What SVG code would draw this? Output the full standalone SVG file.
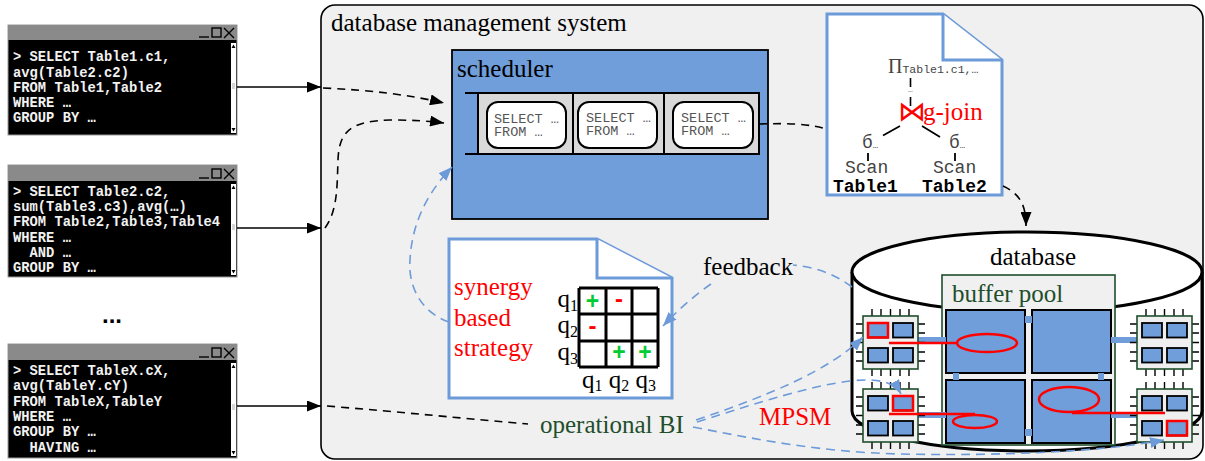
<svg xmlns="http://www.w3.org/2000/svg" width="1205" height="461" viewBox="0 0 1205 461">
  <style>
    .term-bg { fill: #000; stroke: #9a9a9a; stroke-width: 1; }
    .term-bar { fill: #8a8a8a; }
    .ico { fill: none; stroke: #000; stroke-width: 1.4; }
    .code { font-family: "Liberation Mono", monospace; font-weight: bold; font-size: 13.8px; fill: #f2f2f2; white-space: pre; }
    .lbl { font-family: "Liberation Serif", serif; font-size: 25px; fill: #000; }
    .red { fill: #ff0000; }
    .dgreen { fill: #1f4e2c; }
    .q { font-family: "Liberation Mono", monospace; font-size: 13.5px; fill: #555; }
    .plan { font-family: "Liberation Mono", monospace; font-size: 18px; fill: #444; }
    .planb { font-family: "Liberation Mono", monospace; font-size: 18px; font-weight: bold; fill: #000; }
    .doc { fill: #fff; stroke: #6d9bd9; stroke-width: 3; stroke-linejoin: miter; }
    .page { fill: #6f9edb; stroke: #000; stroke-width: 2; }
    .solid-k { fill: none; stroke: #000; stroke-width: 1.6; }
    .dash-k { fill: none; stroke: #000; stroke-width: 1.6; stroke-dasharray: 8 6; }
    .dash-b { fill: none; stroke: #6d9bd9; stroke-width: 1.6; stroke-dasharray: 9 6; }
    .bar-b { fill: #6f9edb; }
    .hl { fill: none; stroke: #ff0000; stroke-width: 2.5; }
    .pin { stroke: #000; stroke-width: 1.4; fill: none; }
  </style>
  <defs>
    <marker id="ah-k" viewBox="0 0 14 11" refX="14" refY="5.5" markerWidth="14" markerHeight="11" markerUnits="userSpaceOnUse" orient="auto">
      <path d="M0,0 L14,5.5 L0,11 z" fill="#000"/>
    </marker>
    <marker id="ah-b" viewBox="0 0 14 11" refX="14" refY="5.5" markerWidth="14" markerHeight="11" markerUnits="userSpaceOnUse" orient="auto">
      <path d="M0,0 L14,5.5 L0,11 z" fill="#6d9bd9"/>
    </marker>
    <!-- processor chip: body, pins and four cores -->
    <g id="chip">
      <path class="pin" d="M9 -7V0 M18 -7V0 M27.5 -7V0 M37 -7V0 M46 -7V0 M9 53V60 M18 53V60 M27.5 53V60 M37 53V60 M46 53V60 M-7 8H0 M-7 17H0 M-7 26.5H0 M-7 36H0 M-7 45H0 M55 8H62 M55 17H62 M55 26.5H62 M55 36H62 M55 45H62"/>
      <rect x="0" y="0" width="55" height="53" fill="#efefef" stroke="#1f4e2c" stroke-width="1.6"/>
      <rect x="5" y="7" width="20" height="14.5" fill="#6f9edb" stroke="#000" stroke-width="1.8"/>
      <rect x="30" y="7" width="20" height="14.5" fill="#6f9edb" stroke="#000" stroke-width="1.8"/>
      <rect x="5" y="32" width="20" height="14.5" fill="#6f9edb" stroke="#000" stroke-width="1.8"/>
      <rect x="30" y="32" width="20" height="14.5" fill="#6f9edb" stroke="#000" stroke-width="1.8"/>
    </g>
  </defs>

  <!-- database management system frame -->
  <g id="dbms">
    <rect x="321" y="5" width="882" height="454" rx="14" fill="#f0f0f0" stroke="#000" stroke-width="1.6"/>
    <text class="lbl" x="331" y="31">database management system</text>
  </g>

  <!-- client terminals -->
  <g id="terminal1">
    <rect class="term-bg" x="8" y="25" width="229" height="110"/>
    <rect class="term-bar" x="8" y="25" width="229" height="15"/>
    <path class="ico" d="M199 37H209"/>
    <rect class="ico" x="212" y="28" width="9" height="9"/>
    <path class="ico" stroke-width="2" d="M224 28L234 38M234 28L224 38"/>
    <rect x="231" y="43" width="5" height="90" fill="#fff"/>
    <path d="M231.5 48L233.5 44.5L235.5 48z M231.5 128L233.5 131.5L235.5 128z" fill="#000"/>
    <path d="M232 84H235M232 86H235M232 88H235" stroke="#999" stroke-width="0.8"/>
    <text class="code" x="13" y="61">&gt; SELECT Table1.c1,</text>
    <text class="code" x="13" y="76.5">avg(Table2.c2)</text>
    <text class="code" x="13" y="92">FROM Table1,Table2</text>
    <text class="code" x="13" y="107">WHERE …</text>
    <text class="code" x="13" y="122">GROUP BY …</text>
  </g>
  <g id="terminal2">
    <rect class="term-bg" x="8" y="165" width="229" height="112"/>
    <rect class="term-bar" x="8" y="165" width="229" height="16"/>
    <path class="ico" d="M199 178H209"/>
    <rect class="ico" x="212" y="169" width="9" height="9"/>
    <path class="ico" stroke-width="2" d="M224 169L234 179M234 169L224 179"/>
    <rect x="231" y="184" width="5" height="91" fill="#fff"/>
    <path d="M231.5 189L233.5 185.5L235.5 189z M231.5 270L233.5 273.5L235.5 270z" fill="#000"/>
    <path d="M232 225H235M232 227H235M232 229H235" stroke="#999" stroke-width="0.8"/>
    <text class="code" x="13" y="196">&gt; SELECT Table2.c2,</text>
    <text class="code" x="13" y="211">sum(Table3.c3),avg(…)</text>
    <text class="code" x="13" y="226">FROM Table2,Table3,Table4</text>
    <text class="code" x="13" y="241.5">WHERE …</text>
    <text class="code" x="13" y="257">  AND …</text>
    <text class="code" x="13" y="272">GROUP BY …</text>
  </g>
  <text id="more-clients" x="102" y="323" font-family="Liberation Sans, sans-serif" font-weight="bold" font-size="24">...</text>
  <g id="terminal3">
    <rect class="term-bg" x="8" y="344" width="229" height="114"/>
    <rect class="term-bar" x="8" y="344" width="229" height="16"/>
    <path class="ico" d="M199 357H209"/>
    <rect class="ico" x="212" y="348" width="9" height="9"/>
    <path class="ico" stroke-width="2" d="M224 348L234 358M234 348L224 358"/>
    <rect x="231" y="363" width="5" height="93" fill="#fff"/>
    <path d="M231.5 368L233.5 364.5L235.5 368z M231.5 451L233.5 454.5L235.5 451z" fill="#000"/>
    <path d="M232 405H235M232 407H235M232 409H235" stroke="#999" stroke-width="0.8"/>
    <text class="code" x="13" y="375">&gt; SELECT TableX.cX,</text>
    <text class="code" x="13" y="390.3">avg(TableY.cY)</text>
    <text class="code" x="13" y="405.6">FROM TableX,TableY</text>
    <text class="code" x="13" y="420.9">WHERE …</text>
    <text class="code" x="13" y="436.2">GROUP BY …</text>
    <text class="code" x="13" y="451.5">  HAVING …</text>
  </g>

  <!-- scheduler with its query queue -->
  <g id="scheduler">
    <rect x="452" y="50" width="316" height="169" fill="#6f9edb" stroke="#000" stroke-width="1.8"/>
    <text class="lbl" x="457" y="77">scheduler</text>
    <rect x="478" y="93" width="281" height="61" fill="#d9d9d9" stroke="#000" stroke-width="2"/>
    <path d="M465 93H478M465 154H478M573 93V154M664 93V154" stroke="#000" stroke-width="2"/>
    <rect x="487" y="102" width="79" height="46" rx="11" fill="#fff" stroke="#000" stroke-width="2"/>
    <rect x="578" y="102" width="79" height="46" rx="11" fill="#fff" stroke="#000" stroke-width="2"/>
    <rect x="673" y="102" width="80" height="46" rx="11" fill="#fff" stroke="#000" stroke-width="2"/>
    <text class="q" x="494" y="122.5">SELECT …</text>
    <text class="q" x="494" y="135.5">FROM …</text>
    <text class="q" x="586" y="121.5">SELECT …</text>
    <text class="q" x="586" y="135">FROM …</text>
    <text class="q" x="681" y="121.5">SELECT …</text>
    <text class="q" x="681" y="135">FROM …</text>
  </g>

  <!-- query plan document -->
  <g id="query-plan">
    <path class="doc" d="M827 14H943L1002 60V195H827Z"/>
    <path class="doc" d="M943 14V60H1002"/>
    <text x="888" y="73" font-family="Liberation Serif, serif" font-size="20" fill="#444">Π<tspan font-family="Liberation Mono, monospace" font-size="11.5">Table1.c1,…</tspan></text>
    <path d="M910.5 78V87M910.5 97V106" stroke="#000" stroke-width="1.6"/>
    <text x="910.5" y="92" text-anchor="middle" font-family="Liberation Mono, monospace" font-size="8" fill="#444">…</text>
    <text x="898" y="121" font-family="DejaVu Sans, sans-serif" font-size="28" fill="#ff0000">⋈</text>
    <text class="lbl red" x="923" y="120">g-join</text>
    <path d="M900 126L883 135.5M922 126L940 137M868 153V161M955 153V161" stroke="#000" stroke-width="1.8"/>
    <text class="plan" x="862" y="148">б<tspan font-size="9">…</tspan></text>
    <text class="plan" x="949" y="148">б<tspan font-size="9">…</tspan></text>
    <text class="plan" x="845" y="173">Scan</text>
    <text class="plan" x="933" y="173">Scan</text>
    <text class="planb" x="833" y="192">Table1</text>
    <text class="planb" x="922" y="192">Table2</text>
  </g>

  <!-- synergy based strategy document -->
  <g id="strategy">
    <path class="doc" d="M449 239H597L672 278V398H449Z"/>
    <path class="doc" d="M597 239V278H672"/>
    <text class="lbl red" x="454" y="295">synergy</text>
    <text class="lbl red" x="454" y="326">based</text>
    <text class="lbl red" x="454" y="356">strategy</text>
    <path d="M579 288H658M579 314H658M579 341H658M579 367H658M579 288V367M606 288V367M632 288V367M658 288V367" stroke="#000" stroke-width="3" fill="none"/>
    <g font-family="Liberation Sans, sans-serif" font-weight="bold" text-anchor="middle">
      <text x="592.5" y="309" font-size="23" fill="#00cc33">+</text>
      <text x="619" y="360" font-size="23" fill="#00cc33">+</text>
      <text x="645" y="360" font-size="23" fill="#00cc33">+</text>
      <text x="619" y="307" font-size="24" fill="#ff0000">-</text>
      <text x="592.5" y="334" font-size="24" fill="#ff0000">-</text>
    </g>
    <g class="lbl" text-anchor="end">
      <text x="578" y="307">q<tspan font-size="16" dy="4">1</tspan></text>
      <text x="578" y="333">q<tspan font-size="16" dy="4">2</tspan></text>
      <text x="578" y="360">q<tspan font-size="16" dy="4">3</tspan></text>
    </g>
    <text class="lbl" x="582" y="388" font-size="24.5">q<tspan font-size="16" dy="3">1</tspan><tspan dy="-3"> q</tspan><tspan font-size="16" dy="3">2</tspan><tspan dy="-3"> q</tspan><tspan font-size="16" dy="3">3</tspan></text>
  </g>

  <!-- database cylinder -->
  <g id="database">
    <path d="M852 272V411A175 40 0 0 0 1202 411V272" fill="#fff" stroke="#000" stroke-width="3"/>
    <ellipse cx="1027" cy="272" rx="175" ry="40" fill="#fff" stroke="#000" stroke-width="3"/>
    <text class="lbl" x="1033" y="265" text-anchor="middle">database</text>
  </g>

  <!-- buffer pool with four pages -->
  <g id="buffer-pool">
    <rect x="942" y="275" width="173" height="170" fill="#f0f0f0" stroke="#1f4e2c" stroke-width="1.6"/>
    <text class="lbl dgreen" x="952" y="302">buffer pool</text>
    <rect class="page" x="946" y="310" width="79" height="63"/>
    <rect class="page" x="1032" y="310" width="79" height="63"/>
    <rect class="page" x="946" y="380" width="79" height="63"/>
    <rect class="page" x="1032" y="380" width="79" height="63"/>
    <rect class="bar-b" x="1025" y="316" width="7" height="7"/>
    <rect class="bar-b" x="1025" y="429" width="7" height="7"/>
    <rect class="bar-b" x="953" y="373" width="6" height="7"/>
    <rect class="bar-b" x="1098" y="373" width="6" height="7"/>
    <rect class="bar-b" x="918" y="337" width="28" height="6"/>
    <rect class="bar-b" x="918" y="412" width="28" height="6"/>
    <rect class="bar-b" x="1111" y="337" width="26" height="6"/>
    <rect class="bar-b" x="1111" y="412" width="26" height="6"/>
  </g>

  <!-- processor chips -->
  <g id="chip-tl"><use href="#chip" x="863" y="316"/><rect class="hl" x="868" y="323" width="20" height="14.5"/></g>
  <g id="chip-bl"><use href="#chip" x="863" y="389"/><rect class="hl" x="893" y="396" width="20" height="14.5"/></g>
  <g id="chip-tr"><use href="#chip" x="1137" y="316"/></g>
  <g id="chip-br"><use href="#chip" x="1137" y="389"/><rect class="hl" x="1167" y="421" width="20" height="14.5"/></g>

  <!-- MPSM partitions: red page regions and their owner cores -->
  <g id="mpsm" fill="none" stroke="#ff0000" stroke-width="2.5">
    <ellipse cx="987" cy="343" rx="30" ry="9"/>
    <ellipse cx="975" cy="421.5" rx="22" ry="6.5"/>
    <ellipse cx="1069" cy="399.5" rx="30" ry="12.5"/>
    <path d="M889 343H957M889 414H975M1072 413H1165"/>
  </g>

  <!-- connectors -->
  <g id="connectors">
    <path class="solid-k" d="M237 87H321" marker-end="url(#ah-k)"/>
    <path class="solid-k" d="M237 228H321" marker-end="url(#ah-k)"/>
    <path class="solid-k" d="M237 406H321" marker-end="url(#ah-k)"/>
    <path class="dash-k" d="M323 88C370 90 410 95 444 103" marker-end="url(#ah-k)"/>
    <path class="dash-k" d="M325 228C338 210 337 185 338 160C339 130 352 121 390 120C410 120 430 121 444 123" marker-end="url(#ah-k)"/>
    <path class="dash-k" d="M327 406C400 412 470 419 528 424"/>
    <path class="dash-k" d="M759 124C790 123 810 124 826 129"/>
    <path class="dash-k" d="M1003 186C1020 194 1026 205 1026 226" marker-end="url(#ah-k)"/>
    <path class="dash-b" d="M449 322C420 312 408 285 410 260C412 220 430 190 452 167" marker-end="url(#ah-b)"/>
    <path class="dash-b" d="M852 287C835 274 815 267 793 265"/>
    <path class="dash-b" d="M711 284C695 295 678 310 663 326" marker-end="url(#ah-b)"/>
    <path class="dash-b" d="M696 420C770 395 830 370 863 337" marker-end="url(#ah-b)"/>
    <path class="dash-b" d="M697 422C760 402 810 386 850 381C875 378 894 381 901 394" marker-end="url(#ah-b)"/>
    <path class="dash-b" d="M693 427C760 440 820 452 900 454C1000 456 1100 452 1164 440" marker-end="url(#ah-b)"/>
  </g>

  <!-- free labels -->
  <g id="labels">
    <text class="lbl" x="703" y="275">feedback</text>
    <text class="lbl dgreen" x="540" y="433">operational BI</text>
    <text class="lbl red" x="759" y="425">MPSM</text>
  </g>
</svg>
